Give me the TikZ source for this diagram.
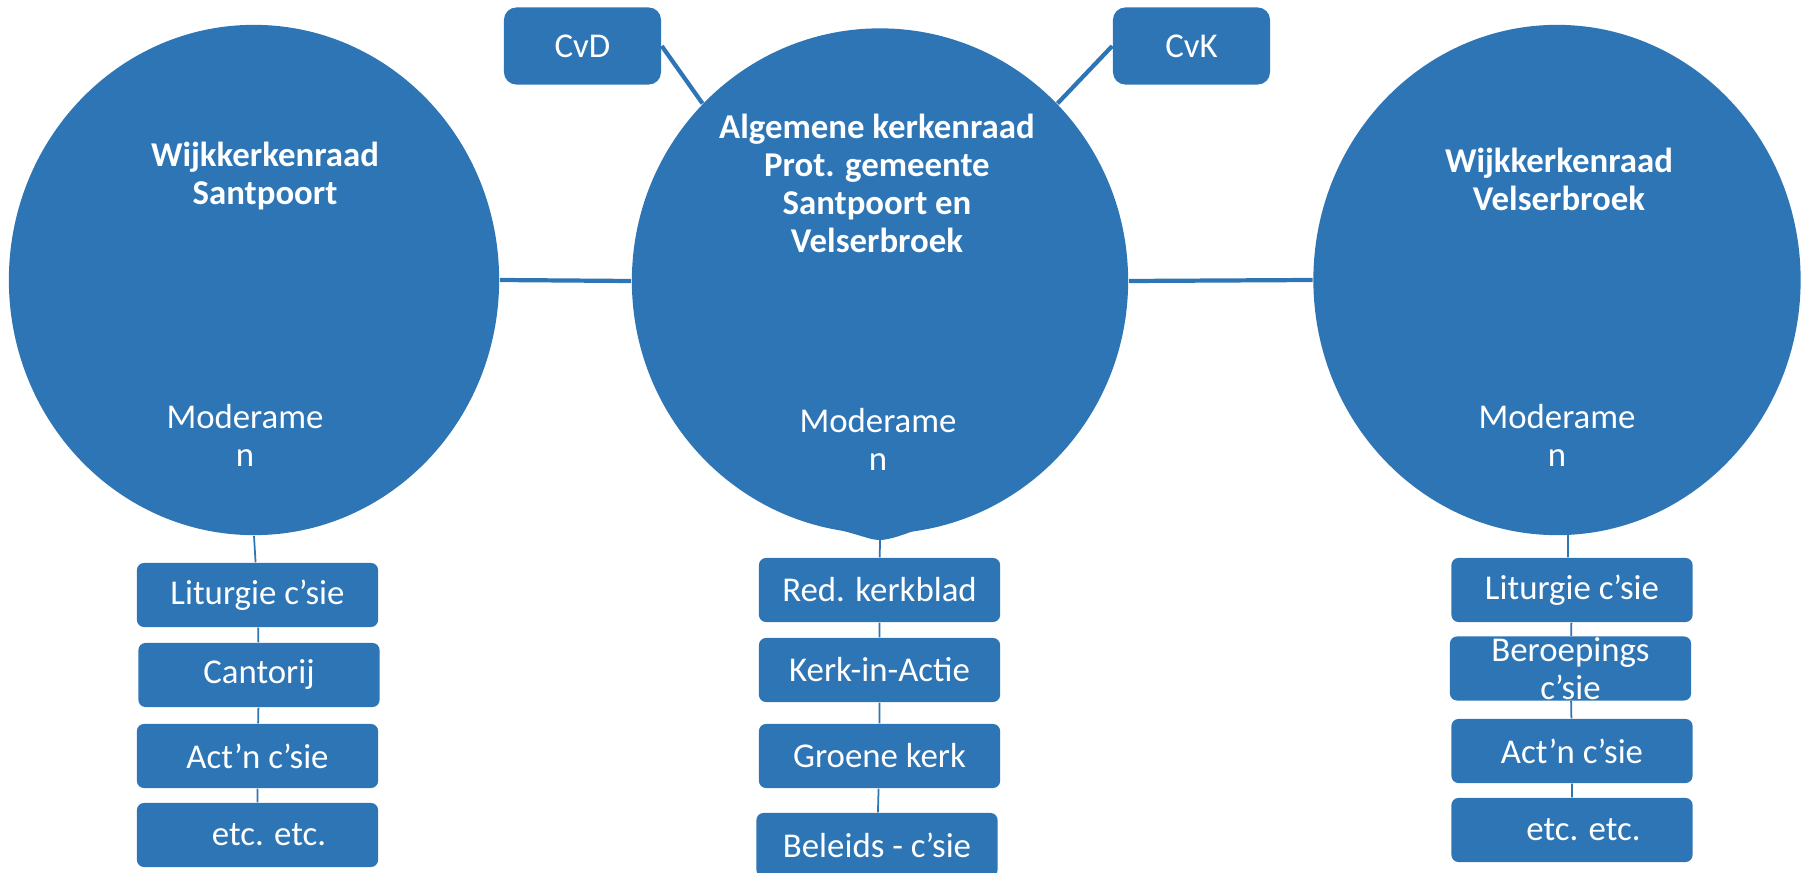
\documentclass[tikz,border=0pt]{standalone}
\usepackage{fontspec}
\setmainfont{Carlito}
\usetikzlibrary{shapes.geometric}
\definecolor{blauw}{HTML}{2E75B6}

\begin{document}
\begin{tikzpicture}[x=0.01cm,y=-0.01cm,font=\fontsize{9.9}{10.8}\selectfont]
  \tikzstyle{elln}=[ellipse,fill=blauw,inner sep=0]
  \tikzstyle{boxn}=[rectangle,rounded corners=2pt,fill=blauw,text=white,inner sep=0,minimum width=2.41cm,minimum height=0.64cm]
  \tikzstyle{topn}=[boxn,rounded corners=3.5pt,minimum width=1.57cm,minimum height=0.77cm]
  \tikzstyle{kopn}=[text=white,align=center,font=\fontsize{9.9}{10.8}\selectfont\bfseries]
  \tikzstyle{modn}=[text=white,align=center]
  \tikzstyle{dik}=[draw=blauw,line width=1.2pt]
  \tikzstyle{dun}=[draw=blauw,line width=0.5pt]
  \useasboundingbox (0,0) rectangle (1808,873);

  % de drie kerkenraden
  \node[elln,minimum width=4.9cm,minimum height=5.1cm] (wkS) at (254,280) {};
  \node[elln,minimum width=4.96cm,minimum height=5.05cm] (akr) at (880,281) {};
  \node[elln,minimum width=4.87cm,minimum height=5.1cm] (wkV) at (1557,280) {};
  \fill[blauw] (840,530) .. controls (866,537) and (872,540) .. (879,540)
    .. controls (890,540) and (902,535) .. (922,528) -- cycle;

  \node[kopn] (wkSkop) at (265,176) {Wijkkerkenraad\\Santpoort};
  \node[kopn] (akrkop) at (877,183) {Algemene kerkenraad\\Prot. gemeente\\Santpoort en\\Velserbroek};
  \node[kopn] (wkVkop) at (1559,179) {Wijkkerkenraad\\Velserbroek};
  \node[modn] (wkSmod) at (245,435) {Moderame\\n};
  \node[modn] (akrmod) at (878,439) {Moderame\\n};
  \node[modn] (wkVmod) at (1557,435) {Moderame\\n};

  \node[topn] (cvd) at (582.5,46) {CvD};
  \node[topn] (cvk) at (1191.5,46) {CvK};

  % commissies
  \node[boxn] (sLit) at (257.5,595) {Liturgie c’sie};
  \node[boxn] (sCan) at (259,675) {Cantorij};
  \node[boxn] (sAct) at (257.5,756) {Act’n c’sie};
  \node[boxn] (sEtc) at (257.5,835) {\hspace*{0.23cm}etc. etc.};

  \node[boxn] (aRed) at (879.5,590) {Red. kerkblad};
  \node[boxn] (aKia) at (879.5,670) {Kerk-in-Actie};
  \node[boxn] (aGro) at (879.5,756) {Groene kerk};
  \node[boxn] (aBel) at (877,845) {Beleids - c’sie};

  \node[boxn] (vLit) at (1572,590) {Liturgie c’sie};
  \node[boxn] (vBer) at (1570.5,668.5) {};
  \node[modn] (vBerT) at (vBer) {Beroepings\\c’sie};
  \node[boxn] (vAct) at (1572,751) {Act’n c’sie};
  \node[boxn] (vEtc) at (1572,830) {\hspace*{0.23cm}etc. etc.};

  \draw[dik] (wkS.east) -- (akr.west);
  \draw[dik] (akr.east) -- (wkV.west);
  \draw[dik] (cvd.east) -- (akr.135);
  \draw[dik] (cvk.west) -- (akr.45);

  \draw[dun] (wkS.south) -- (sLit) -- (sCan) -- (sAct) -- (sEtc);
  \draw[dun] (akr.south) -- (aRed) -- (aKia) -- (aGro) -- (aBel);
  \draw[dun] (vLit.north -| 1568,0) -- (1568,530) (vLit) -- (vBer) -- (vAct) -- (vEtc);
\end{tikzpicture}
\end{document}
